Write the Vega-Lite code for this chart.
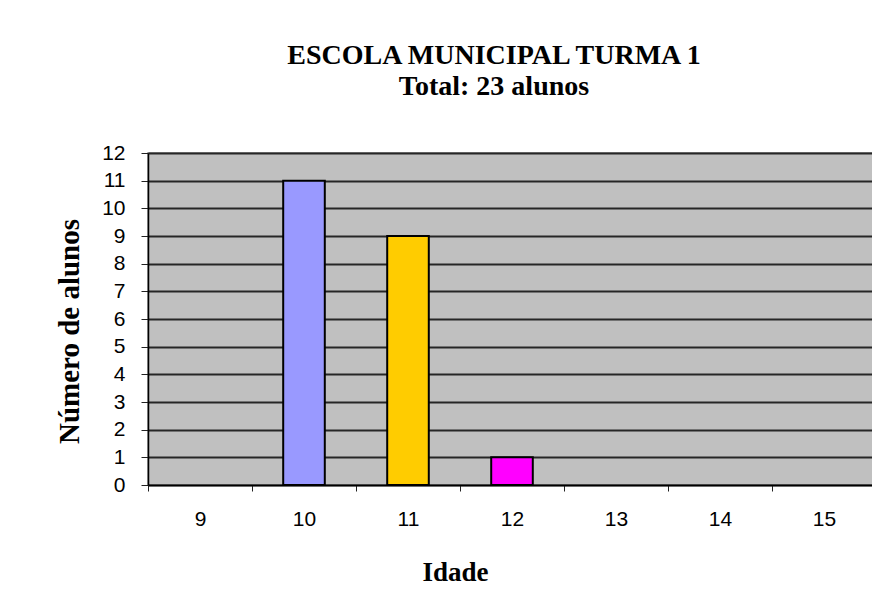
{
  "$schema": "https://vega.github.io/schema/vega-lite/v6.json",
  "autosize": "none",
  "padding": {"left": 148, "top": 153, "right": 0, "bottom": 120},
  "width": 728,
  "height": 332,
  "background": "white",
  "title": {
    "text": ["ESCOLA MUNICIPAL TURMA 1", "Total: 23 alunos"],
    "font": "Liberation Serif",
    "fontSize": 28,
    "fontWeight": "bold",
    "color": "black",
    "anchor": "middle",
    "baseline": "bottom",
    "lineHeight": 31,
    "offset": 13,
    "dx": -18
  },
  "data": {
    "values": [
      {"idade": "9", "alunos": 0},
      {"idade": "10", "alunos": 11},
      {"idade": "11", "alunos": 9},
      {"idade": "12", "alunos": 1},
      {"idade": "13", "alunos": 0},
      {"idade": "14", "alunos": 0},
      {"idade": "15", "alunos": 0}
    ]
  },
  "mark": {"type": "bar", "stroke": "black", "opacity": 1, "width": {"band": 0.4}},
  "encoding": {
    "x": {
      "field": "idade",
      "type": "ordinal",
      "sort": null,
      "scale": {"domain": ["9", "10", "11", "12", "13", "14", "15"], "paddingInner": 0, "paddingOuter": 0},
      "axis": {
        "title": "Idade",
        "labelAngle": 0,
        "tickBand": "extent",
        "tickSize": 6,
        "tickColor": "#222",
        "domainColor": "black",
        "domainWidth": 1.5,
        "labelFont": "Liberation Sans",
        "labelFontSize": 21,
        "labelColor": "black",
        "labelPadding": 17,
        "titleFont": "Liberation Serif",
        "titleFontSize": 27,
        "titleFontWeight": "bold",
        "titleColor": "black",
        "titleX": 307,
        "titleY": 95,
        "titleBaseline": "alphabetic",
        "titleAlign": "center"
      }
    },
    "y": {
      "field": "alunos",
      "type": "quantitative",
      "scale": {"domain": [0, 12], "nice": false},
      "axis": {
        "title": "Número de alunos",
        "values": [0, 1, 2, 3, 4, 5, 6, 7, 8, 9, 10, 11, 12],
        "grid": true,
        "gridColor": "#262626",
        "gridWidth": 2,
        "tickSize": 7,
        "tickColor": "#222",
        "domainColor": "black",
        "domainWidth": 1.5,
        "labelFont": "Liberation Sans",
        "labelFontSize": 21,
        "labelColor": "black",
        "labelPadding": 16,
        "titleFont": "Liberation Serif",
        "titleFontSize": 29,
        "titleFontWeight": "bold",
        "titleColor": "black",
        "titleX": -70,
        "titleY": 178,
        "titleBaseline": "alphabetic",
        "titleAlign": "center",
        "titleAngle": -90
      }
    },
    "strokeWidth": {
      "condition": {"test": "datum.alunos == 0", "value": 0},
      "value": 2
    },
    "color": {
      "field": "idade",
      "type": "nominal",
      "scale": {
        "domain": ["9", "10", "11", "12", "13", "14", "15"],
        "range": ["#C0C0C0", "#9999FF", "#FFCC00", "#FF00FF", "#C0C0C0", "#C0C0C0", "#C0C0C0"]
      },
      "legend": null
    }
  },
  "config": {
    "view": {"fill": "#C0C0C0", "stroke": "#808080", "strokeWidth": 1.5}
  }
}
